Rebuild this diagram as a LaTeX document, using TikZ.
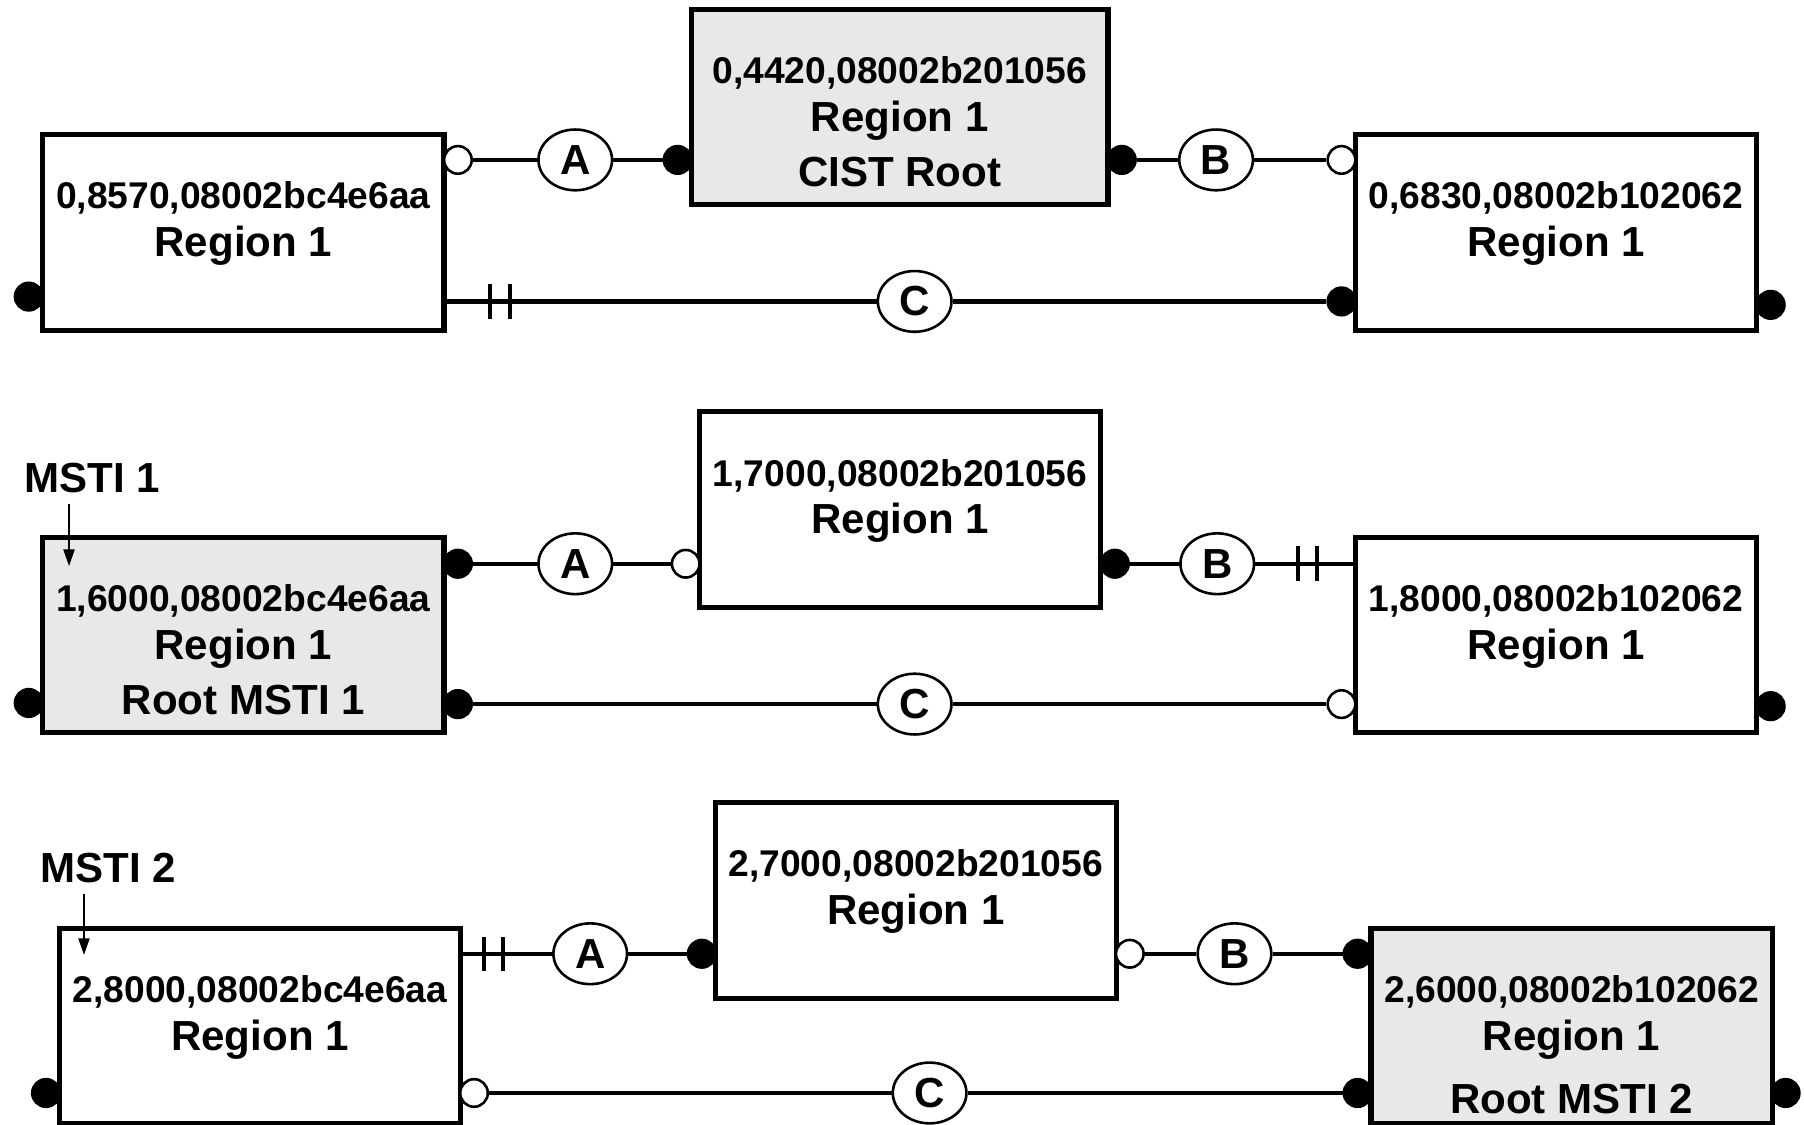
\documentclass[tikz,border=0pt]{standalone}
\usepackage{fontspec}
\setmainfont{Liberation Sans}
\usetikzlibrary{arrows.meta,shapes.geometric}

\tikzset{
  bridge/.style={draw, line width=1.6pt, minimum width=4.36cm,
    minimum height=2.125cm, inner sep=0pt},
  rootbridge/.style={bridge, fill=gray!18},
  bid/.style={font=\bfseries\fontsize{11.5}{13}\selectfont,
    text height=8.3pt, text depth=0pt},
  bname/.style={font=\bfseries\fontsize{13}{15}\selectfont,
    text height=9.3pt, text depth=0pt},
  desig/.style={circle, draw, fill=black, line width=0.8pt,
    minimum size=0.3cm, inner sep=0pt},
  altern/.style={desig, fill=white},
  seg/.style={ellipse, draw, line width=0.8pt, minimum width=0.8cm,
    minimum height=0.66cm, inner sep=0pt,
    font=\bfseries\fontsize{13}{13}\selectfont},
  wire/.style={line width=1.3pt},
  pointer/.style={line width=0.6pt, -{Triangle[length=1.8mm,width=1.2mm]}}
}

\begin{document}
\begin{tikzpicture}
  \useasboundingbox (0,0) rectangle (19.6,12.2125);

  % CIST
  \node[bridge] (b1l) at (2.644,9.6875) {};
  \node[bid] at ([yshift=-0.69cm]b1l.north) {0,8570,08002bc4e6aa};
  \node[bname] at ([yshift=-1.19cm]b1l.north) {Region 1};
  \node[rootbridge, minimum width=4.525cm] (b1m) at (9.775,11.05) {};
  \node[bid] at ([yshift=-0.69cm]b1m.north) {0,4420,08002b201056};
  \node[bname] at ([yshift=-1.19cm]b1m.north) {Region 1};
  \node[bname] at ([yshift=-1.79cm]b1m.north) {CIST Root};
  \node[bridge] (b1r) at (16.906,9.6875) {};
  \node[bid] at ([yshift=-0.69cm]b1r.north) {0,6830,08002b102062};
  \node[bname] at ([yshift=-1.19cm]b1r.north) {Region 1};

  \node[altern] (p1la) at (4.975,10.475) {};
  \node[desig] (p1ma) at (7.3625,10.475) {};
  \node[desig] (p1mb) at (12.1875,10.475) {};
  \node[altern] (p1rb) at (14.575,10.475) {};
  \coordinate (p1lc) at (4.79,8.9375);
  \node[desig] (p1rc) at (14.575,8.9375) {};
  \node[desig] (p1lo) at (0.3125,8.99) {};
  \node[desig] (p1ro) at (19.2375,8.9) {};

  \node[seg] (s1a) at (6.25,10.475) {A};
  \node[seg] (s1b) at (13.2125,10.475) {B};
  \node[seg] (s1c) at (9.9375,8.9375) {C};
  \draw[wire] (p1la) -- (s1a) -- (p1ma);
  \draw[wire] (p1mb) -- (s1b) -- (p1rb);
  \draw[wire] (p1lc) -- (s1c) -- (p1rc);
  \foreach \x in {5.325,5.5375}
    \draw[wire] (\x,8.75) -- (\x,9.125);

  % MSTI 1
  \node[rootbridge] (b2l) at (2.644,5.3125) {};
  \node[bid] at ([yshift=-0.69cm]b2l.north) {1,6000,08002bc4e6aa};
  \node[bname] at ([yshift=-1.19cm]b2l.north) {Region 1};
  \node[bname] at ([yshift=-1.79cm]b2l.north) {Root MSTI 1};
  \node[bridge] (b2m) at (9.78,6.675) {};
  \node[bid] at ([yshift=-0.69cm]b2m.north) {1,7000,08002b201056};
  \node[bname] at ([yshift=-1.19cm]b2m.north) {Region 1};
  \node[bridge] (b2r) at (16.906,5.3125) {};
  \node[bid] at ([yshift=-0.69cm]b2r.north) {1,8000,08002b102062};
  \node[bname] at ([yshift=-1.19cm]b2r.north) {Region 1};

  \node[desig] (p2la) at (4.975,6.0875) {};
  \node[altern] (p2ma) at (7.45,6.0875) {};
  \node[desig] (p2mb) at (12.1125,6.0875) {};
  \coordinate (p2rb) at (14.725,6.0875);
  \node[desig] (p2lc) at (4.975,4.5625) {};
  \node[altern] (p2rc) at (14.575,4.5625) {};
  \node[desig] (p2lo) at (0.3125,4.575) {};
  \node[desig] (p2ro) at (19.2375,4.54) {};

  \node[seg] (s2a) at (6.25,6.0875) {A};
  \node[seg] (s2b) at (13.225,6.0875) {B};
  \node[seg] (s2c) at (9.9375,4.5625) {C};
  \draw[wire] (p2la) -- (s2a) -- (p2ma);
  \draw[wire] (p2mb) -- (s2b) -- (p2rb);
  \draw[wire] (p2lc) -- (s2c) -- (p2rc);
  \foreach \x in {14.1,14.3125}
    \draw[wire] (\x,5.9) -- (\x,6.275);

  \node[bname] (msti1) at (1.0,7.025) {MSTI 1};
  \coordinate (msti1tip) at (0.75,6.0625);
  \draw[pointer] (msti1.south -| msti1tip) -- (msti1tip);

  % MSTI 2
  \node[bridge] (b3l) at (2.825,1.0625) {};
  \node[bid] at ([yshift=-0.69cm]b3l.north) {2,8000,08002bc4e6aa};
  \node[bname] at ([yshift=-1.19cm]b3l.north) {Region 1};
  \node[bridge] (b3m) at (9.95,2.43) {};
  \node[bid] at ([yshift=-0.69cm]b3m.north) {2,7000,08002b201056};
  \node[bname] at ([yshift=-1.19cm]b3m.north) {Region 1};
  \node[rootbridge] (b3r) at (17.075,1.0625) {};
  \node[bid] at ([yshift=-0.69cm]b3r.north) {2,6000,08002b102062};
  \node[bname] at ([yshift=-1.19cm]b3r.north) {Region 1};
  \node[bname] at ([yshift=-1.87cm]b3r.north) {Root MSTI 2};

  \coordinate (p3la) at (4.99,1.85);
  \node[desig] (p3ma) at (7.625,1.85) {};
  \node[altern] (p3mb) at (12.275,1.85) {};
  \node[desig] (p3rb) at (14.75,1.85) {};
  \node[altern] (p3lc) at (5.15,0.3375) {};
  \node[desig] (p3rc) at (14.75,0.3375) {};
  \node[desig] (p3lo) at (0.5,0.3375) {};
  \node[desig] (p3ro) at (19.4,0.3375) {};

  \node[seg] (s3a) at (6.4125,1.85) {A};
  \node[seg] (s3b) at (13.4125,1.85) {B};
  \node[seg] (s3c) at (10.1,0.3375) {C};
  \draw[wire] (p3la) -- (s3a) -- (p3ma);
  \draw[wire] (p3mb) -- (s3b) -- (p3rb);
  \draw[wire] (p3lc) -- (s3c) -- (p3rc);
  \foreach \x in {5.2625,5.4625}
    \draw[wire] (\x,1.6625) -- (\x,2.0375);

  \node[bname] (msti2) at (1.175,2.7875) {MSTI 2};
  \coordinate (msti2tip) at (0.9125,1.8375);
  \draw[pointer] (msti2.south -| msti2tip) -- (msti2tip);
\end{tikzpicture}
\end{document}
